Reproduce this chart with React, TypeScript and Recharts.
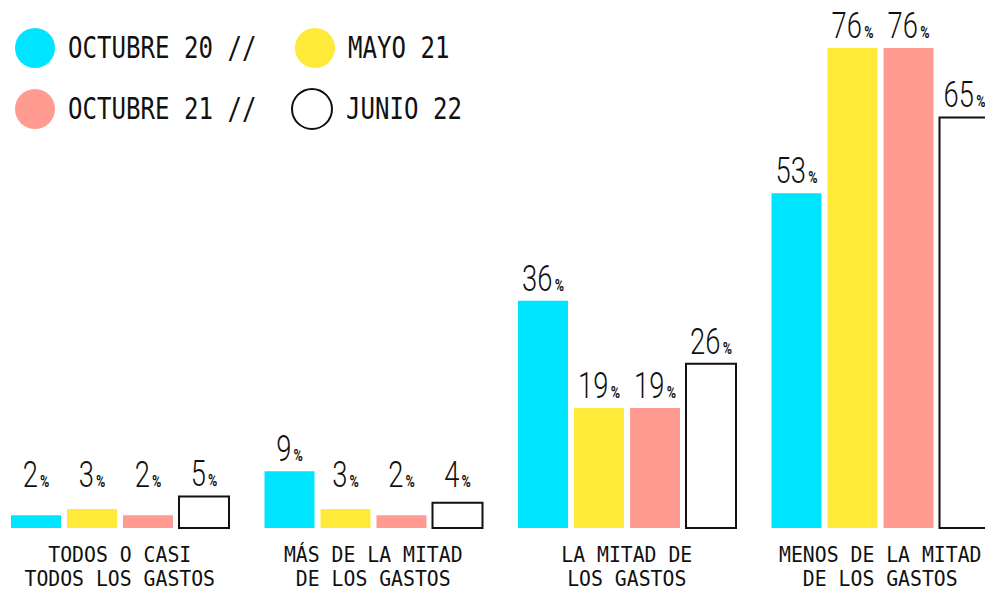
import React from 'react';
import { BarChart, Bar, XAxis, YAxis, LabelList } from 'recharts';

const categories = ['TODOS O CASI|TODOS LOS GASTOS', 'MÁS DE LA MITAD|DE LOS GASTOS', 'LA MITAD DE|LOS GASTOS', 'MENOS DE LA MITAD|DE LOS GASTOS'];
const seriesNames = ['OCTUBRE 20 //', 'MAYO 21', 'OCTUBRE 21 //', 'JUNIO 22'];
const seriesKeys = ['oct20', 'may21', 'oct21', 'jun22'];
const octubre20 = [2, 9, 36, 53];
const mayo21 = [3, 3, 19, 76];
const octubre21 = [2, 2, 19, 76];
const junio22 = [5, 4, 26, 65];
const colors = ['#00E5FF', '#FFEA3A', '#FF9B90', '#FFFFFF'];

const data = categories.map((c, i) => ({
  cat: c,
  oct20: octubre20[i],
  may21: mayo21[i],
  oct21: octubre21[i],
  jun22: junio22[i],
}));

const INK = '#111111';

const ValueLabel = (props: any) => {
  const { x, y, width, height, value } = props;
  const cx = Number(x) + Number(width) / 2;
  const base = Number(y) + Number(height);
  const ly = Math.min(Number(y) - 10, base - 41);
  return (
    <text
      x={cx}
      y={ly}
      textAnchor="middle"
      fill={INK}
      fontFamily="Roboto, 'DejaVu Sans', sans-serif"
      transform={`translate(${cx} 0) scale(0.74 1) translate(${-cx} 0)`}
    >
      <tspan fontSize={37} fontWeight={300}>{value}</tspan>
      <tspan fontSize={17} fontWeight={700} dx={3}>%</tspan>
    </text>
  );
};

const CategoryTick = (props: any) => {
  const { x, y, payload } = props;
  const lines = String(payload.value).split('|');
  return (
    <g transform={`translate(${x} ${y}) scale(0.9 1)`}>
      {lines.map((l, i) => (
        <text
          key={i}
          x={0}
          y={26 + i * 24}
          textAnchor="middle"
          fill={INK}
          fontFamily="'DejaVu Sans Mono', monospace"
          fontSize={22}
        >
          {l}
        </text>
      ))}
    </g>
  );
};

const legendPos = [
  { left: 15, top: 28 },
  { left: 295, top: 28 },
  { left: 15, top: 89 },
  { left: 291, top: 89 },
];

const LegendBlock = () => (
  <>
    {seriesNames.map((n, i) => (
      <div
        key={n}
        style={{
          position: 'absolute',
          left: legendPos[i].left,
          top: legendPos[i].top,
          display: 'flex',
          alignItems: 'center',
          height: 40,
        }}
      >
        <div
          style={{
            width: i === 3 ? 38 : 40,
            height: i === 3 ? 38 : 40,
            borderRadius: '50%',
            background: colors[i],
            border: i === 3 ? `2px solid ${INK}` : 'none',
            flex: 'none',
          }}
        />
        <div
          style={{
            marginLeft: 13,
            fontFamily: "'DejaVu Sans Mono', monospace",
            fontSize: 29,
            color: INK,
            whiteSpace: 'pre',
            transform: 'scale(0.83, 1.05)',
            transformOrigin: 'left center',
            lineHeight: '40px',
          }}
        >
          {n}
        </div>
      </div>
    ))}
  </>
);

export default function App() {
  return (
    <div
      style={{
        position: 'fixed',
        left: 0,
        top: 0,
        width: 985,
        height: 590,
        overflow: 'hidden',
        background: '#fff',
      }}
    >
      <div style={{ position: 'absolute', left: -7, top: 0 }}>
        <BarChart
          width={1014}
          height={590}
          data={data}
          margin={{ top: 48, right: 0, left: 0, bottom: 0 }}
          barGap={6}
          barSize={50}
        >
          <XAxis
            dataKey="cat"
            height={62}
            axisLine={false}
            tickLine={false}
            interval={0}
            tick={<CategoryTick />}
          />
          <YAxis hide domain={[0, 76]} />
          {seriesKeys.map((k, i) => (
            <Bar
              key={k}
              dataKey={k}
              name={seriesNames[i]}
              fill={colors[i]}
              stroke={i === 3 ? INK : 'none'}
              strokeWidth={i === 3 ? 2 : 0}
              barSize={50}
              isAnimationActive={false}
            >
              <LabelList dataKey={k} content={<ValueLabel />} />
            </Bar>
          ))}
        </BarChart>
      </div>
      <LegendBlock />
    </div>
  );
}
